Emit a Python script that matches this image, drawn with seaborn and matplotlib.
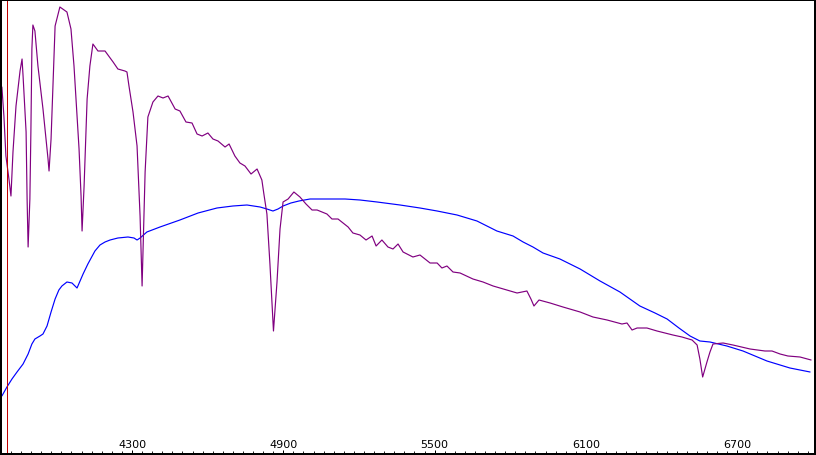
import numpy as np
import pandas as pd
import matplotlib
matplotlib.use("Agg")
import matplotlib.pyplot as plt
import seaborn as sns
from matplotlib.ticker import FixedLocator, NullFormatter

# ---------- data (wavelength in Angstrom, flux in arbitrary units) ----------
spec_wave = [3784, 3792, 3800, 3812, 3820, 3828, 3840, 3856, 3864, 3868, 3880, 3884,
             3888, 3895, 3899, 3903, 3907, 3915, 3927, 3947, 3967, 3971, 3979, 3987,
             3995, 4014, 4042, 4058, 4070, 4090, 4098, 4102, 4110, 4122, 4133, 4145,
             4165, 4193, 4225, 4244, 4272, 4280, 4288, 4304, 4320, 4332, 4340, 4352,
             4363, 4383, 4403, 4423, 4443, 4471, 4490, 4514, 4538, 4558, 4578, 4601,
             4621, 4641, 4669, 4685, 4708, 4728, 4748, 4772, 4796, 4815, 4823, 4835,
             4847, 4861, 4875, 4887, 4899, 4919, 4942, 4966, 4990, 5014, 5034, 5073,
             5093, 5117, 5157, 5176, 5204, 5228, 5252, 5268, 5291, 5315, 5335, 5355,
             5375, 5414, 5442, 5482, 5510, 5529, 5549, 5573, 5601, 5652, 5692, 5732,
             5787, 5827, 5866, 5882, 5894, 5914, 5958, 6009, 6077, 6128, 6184, 6243,
             6263, 6283, 6303, 6342, 6382, 6445, 6481, 6521, 6541, 6552, 6563, 6580,
             6592, 6604, 6644, 6683, 6751, 6810, 6838, 6870, 6901, 6949, 6993]
spec_flux = [367, 338, 298, 275, 258, 302, 348, 383, 395, 378, 322, 255,
             207, 255, 322, 405, 429, 423, 388, 345, 295, 283, 315, 372,
             428, 447, 442, 425, 388, 305, 258, 223, 268, 355, 388, 410,
             403, 403, 392, 385, 383, 382, 368, 342, 308, 238, 168, 282,
             337, 352, 358, 356, 358, 345, 343, 332, 331, 320, 318, 321,
             315, 313, 307, 310, 298, 291, 288, 280, 285, 274, 260, 240,
             190, 123, 172, 225, 252, 255, 262, 257, 250, 244, 244, 240,
             235, 235, 227, 221, 219, 214, 218, 208, 214, 207, 205, 210,
             202, 197, 199, 191, 191, 186, 188, 182, 181, 175, 172, 168,
             164, 161, 163, 155, 148, 154, 151, 147, 142, 137, 134, 130,
             131, 124, 126, 126, 123, 119, 117, 114, 109, 95, 77, 92,
             102, 110, 111, 109, 105, 103, 103, 100, 98, 97, 94]

resp_wave = [3784, 3804, 3824, 3844, 3868, 3888, 3903, 3915, 3935, 3947, 3963, 3979,
             3995, 4010, 4022, 4042, 4062, 4082, 4094, 4106, 4125, 4153, 4173, 4193,
             4213, 4244, 4284, 4308, 4320, 4332, 4359, 4411, 4490, 4562, 4637, 4700,
             4756, 4808, 4835, 4859, 4879, 4899, 4930, 4962, 5006, 5085, 5145, 5204,
             5272, 5363, 5442, 5510, 5589, 5668, 5747, 5811, 5851, 5890, 5930, 5997,
             6077, 6156, 6235, 6314, 6374, 6422, 6469, 6513, 6552, 6592, 6659, 6723,
             6818, 6909, 6989]
resp_flux = [58, 67, 75, 82, 90, 100, 110, 115, 118, 120, 128, 142,
             155, 164, 168, 172, 171, 166, 173, 180, 190, 203, 209, 212,
             214, 216, 217, 216, 214, 216, 222, 227, 234, 241, 246, 248,
             249, 247, 245, 243, 245, 248, 251, 253, 255, 255, 255, 254,
             252, 249, 246, 243, 239, 233, 223, 218, 212, 207, 201, 195,
             185, 173, 162, 148, 141, 135, 126, 118, 113, 112, 108, 103,
             93, 86, 82]

marker_wave = 3806
major_ticks = [4300, 4900, 5500, 6100, 6700]
minor_step = 40

# ---------- plot ----------
sns.set_style("white")
plt.rcParams["font.family"] = ["DejaVu Sans"]

W, H = 816, 456
fig = plt.figure(figsize=(W / 100, H / 100), dpi=100)
ax = fig.add_axes([1 / W, 1 / H, 814 / W, 454.5 / H])

spec = pd.DataFrame({"wave": spec_wave, "flux": spec_flux})
resp = pd.DataFrame({"wave": resp_wave, "flux": resp_flux})
sns.lineplot(data=resp, x="wave", y="flux", sort=False, estimator=None,
             color="#0000ff", linewidth=0.85, ax=ax)
sns.lineplot(data=spec, x="wave", y="flux", sort=False, estimator=None,
             color="#800080", linewidth=0.85, ax=ax)
ax.axvline(marker_wave, color="#c00000", linewidth=0.72, antialiased=False)

ax.set_xlim(3780.5, 7008.5)
ax.set_ylim(0, 454.5)
ax.set_xlabel("")
ax.set_ylabel("")
ax.set_yticks([])

ax.xaxis.set_major_locator(FixedLocator(major_ticks))
ax.xaxis.set_minor_locator(FixedLocator(np.arange(3700, 7010, minor_step)))
ax.xaxis.set_minor_formatter(NullFormatter())
ax.set_xticklabels([str(t) for t in major_ticks])
ax.tick_params(axis="x", which="major", direction="in", length=3, width=0.72,
               pad=-10.5, labelsize=8, colors="black", bottom=True)
ax.tick_params(axis="x", which="minor", direction="in", length=2.2, width=0.72,
               bottom=True)

for side, lw in [("left", 1.44), ("bottom", 1.44), ("right", 1.44), ("top", 0.72)]:
    ax.spines[side].set_visible(True)
    ax.spines[side].set_color("black")
    ax.spines[side].set_linewidth(lw)

fig.savefig("out.png", dpi=100)
